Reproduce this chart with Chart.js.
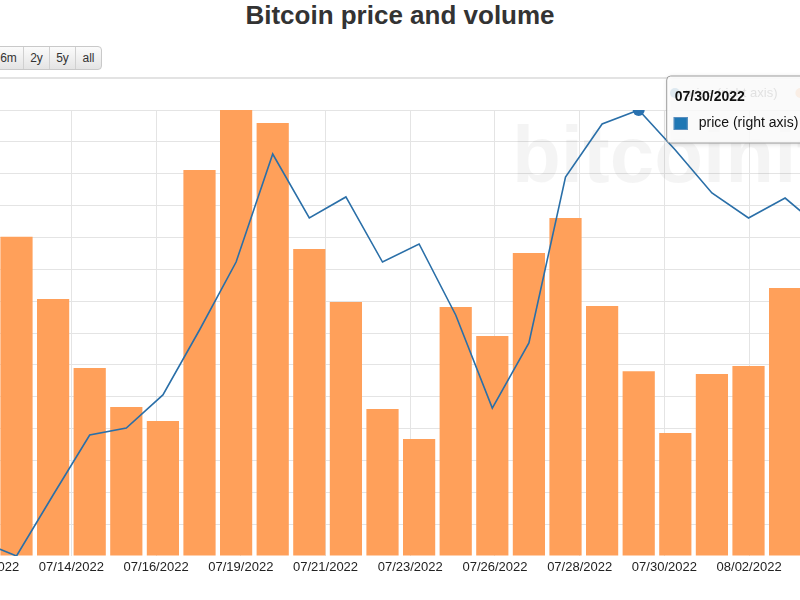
<!DOCTYPE html>
<html>
<head>
<meta charset="utf-8">
<script src="https://cdn.jsdelivr.net/npm/chart.js@4.4.1/dist/chart.umd.min.js"></script>
<style>
html,body{margin:0;padding:0;background:#fff;}
#frame{position:absolute;left:0;top:0;width:800px;height:600px;overflow:hidden;font-family:"Liberation Sans",Arial,Helvetica,sans-serif;}
#title{position:absolute;left:0;top:0;width:800px;height:30px;line-height:30px;text-align:center;font-weight:bold;font-size:26px;color:#333;}
#btns{position:absolute;left:-7px;top:46px;height:22px;display:flex;border:1px solid #c9c9c9;border-radius:4px;background:linear-gradient(#fbfbfb,#e4e4e4);}
#btns div{width:25px;height:22px;line-height:22px;text-align:center;font-size:12px;color:#333;border-left:1px solid #d0d0d0;}
#btns div:first-child{border-left:none;width:29px;}
#rule{position:absolute;left:0;top:77px;width:800px;height:2px;background:#e3e3e3;}
#wrap{position:absolute;left:-100px;top:0;width:1000px;height:600px;}
</style>
</head>
<body>
<div id="frame">
  <div id="title">Bitcoin price and volume</div>
  <div id="btns"><div>6m</div><div>2y</div><div>5y</div><div>all</div></div>
  <div id="rule"></div>
  <div id="wrap"><canvas id="c" width="1000" height="600"></canvas></div>
</div>
<script>
// ---- data ----
const dates = ['07/12/2022','07/13/2022','07/14/2022','07/15/2022','07/16/2022','07/17/2022','07/18/2022',
  '07/19/2022','07/20/2022','07/21/2022','07/22/2022','07/23/2022','07/24/2022','07/25/2022','07/26/2022',
  '07/27/2022','07/28/2022','07/29/2022','07/30/2022','07/31/2022','08/01/2022','08/02/2022','08/03/2022','08/04/2022'];
const volume = [null, 97900, 78800, 57700, 45700, 41400, 118400, 136800, 132800, 94200, 77900, 45100,
  35900, 76400, 67500, 92900, 103700, 76700, 56700, 37700, 55800, 58300, 82200, null];
const price = [19455, 19300, 19929, 20548, 20620, 20961, 21631, 22332, 23446, 22786, 23003, 22332,
  22518, 21786, 20826, 21497, 23209, 23756, 23900, 23487, 23044, 22786, 22992, 22673];
const tickLabels = ['07/12/2022','07/14/2022','07/16/2022','07/19/2022','07/21/2022','07/23/2022',
  '07/26/2022','07/28/2022','07/30/2022','08/02/2022'];
const hoverDate = '07/30/2022';

// ---- layout helpers ----
const tickStart = 0.1855, tickStep = 2.3145;
const hoverIndex = dates.indexOf(hoverDate);
const volPts = volume.map((v, i) => ({x: i, y: v}));
const pricePts = price.map((v, i) => ({x: i, y: v}));

Chart.defaults.font.family = '"Liberation Sans", Arial, Helvetica, sans-serif';

const decor = {
  id: 'decor',
  beforeDatasetsDraw(chart) {
    const ctx = chart.ctx;
    ctx.save();
    ctx.font = 'bold 80px "Liberation Sans", Arial, sans-serif';
    ctx.fillStyle = 'rgba(0,0,0,0.045)';
    ctx.textBaseline = 'alphabetic';
    ctx.fillText('bitcoinity', 612, 182);
    ctx.restore();
  },
  afterDraw(chart) {
    const ctx = chart.ctx;
    const ds = chart.data.datasets;
    // legend (sits under the tooltip)
    ctx.save();
    ctx.font = '13px "Liberation Sans", Arial, sans-serif';
    ctx.textBaseline = 'middle';
    let lx = 775;
    const ly = 93;
    [ds[0], ds[1]].forEach(d => {
      ctx.beginPath();
      ctx.arc(lx, ly, 5, 0, Math.PI * 2);
      ctx.fillStyle = d.legendColor;
      ctx.fill();
      ctx.fillStyle = '#333';
      ctx.fillText(d.label, lx + 10, ly);
      lx += 10 + ctx.measureText(d.label).width + 23;
    });
    ctx.restore();

    // tooltip
    const meta = chart.getDatasetMeta(0);
    const pt = meta.data[hoverIndex];
    const left = pt.x + 28, top = 76;
    ctx.save();
    ctx.font = '14px "Liberation Sans", Arial, sans-serif';
    const label = ds[0].label;
    const valTxt = price[hoverIndex].toLocaleString('en-US', {minimumFractionDigits: 2});
    const w = 32 + ctx.measureText(label).width + 14 + ctx.measureText(valTxt).width + 10;
    const h = 67;
    ctx.shadowColor = 'rgba(0,0,0,0.18)';
    ctx.shadowBlur = 5;
    ctx.shadowOffsetX = 1;
    ctx.shadowOffsetY = 1;
    ctx.beginPath();
    ctx.roundRect(left, top, w, h, 4);
    ctx.fillStyle = 'rgba(255,255,255,0.86)';
    ctx.fill();
    ctx.shadowColor = 'transparent';
    ctx.strokeStyle = '#9c9c9c';
    ctx.lineWidth = 1;
    ctx.stroke();
    ctx.textBaseline = 'middle';
    ctx.fillStyle = '#111';
    ctx.font = 'bold 14px "Liberation Sans", Arial, sans-serif';
    ctx.fillText(dates[hoverIndex], left + 8, top + 21);
    ctx.fillStyle = '#1f77b4';
    ctx.fillRect(left + 7, top + 41, 14, 13);
    ctx.strokeStyle = '#5b8fbf';
    ctx.strokeRect(left + 7.5, top + 41.5, 13, 12);
    ctx.fillStyle = '#111';
    ctx.font = '14px "Liberation Sans", Arial, sans-serif';
    ctx.fillText(label, left + 32, top + 47);
    ctx.fillText(valTxt, left + 32 + ctx.measureText(label).width + 14, top + 47);
    ctx.restore();
  }
};

new Chart(document.getElementById('c'), {
  data: {
    datasets: [
      {
        type: 'line',
        label: 'price (right axis)',
        legendColor: '#1f77b4',
        data: pricePts,
        yAxisID: 'y1',
        borderColor: '#2a6fa8',
        borderWidth: 1.6,
        tension: 0,
        pointRadius: c => c.dataIndex === hoverIndex ? 6 : 0,
        pointBackgroundColor: '#2a72b0',
        pointBorderWidth: 0,
        clip: 0,
        order: 0
      },
      {
        type: 'bar',
        label: 'volume (left axis)',
        legendColor: '#ff9f55',
        data: volPts,
        yAxisID: 'y',
        backgroundColor: '#ffa05a',
        borderWidth: 0,
        categoryPercentage: 1,
        barPercentage: 0.88,
        order: 1
      }
    ]
  },
  options: {
    responsive: false,
    animation: false,
    events: [],
    layout: {padding: {top: 110, left: 0, right: 0, bottom: 0}},
    plugins: {legend: {display: false}, title: {display: false}, tooltip: {enabled: false}},
    scales: {
      x: {
        type: 'linear',
        bounds: 'data',
        offset: false,
        min: -2.183,
        max: 25.139,
        afterBuildTicks: s => { s.ticks = tickLabels.map((l, m) => ({value: tickStart + m * tickStep})); },
        afterFit: s => { s.height = 44; },
        ticks: {
          autoSkip: false,
          maxRotation: 0,
          padding: 4,
          color: '#222',
          font: {size: 13},
          callback: (v, i) => tickLabels[i]
        },
        grid: {color: '#e4e4e4', drawTicks: false, offset: false},
        border: {display: false}
      },
      y: {
        position: 'left',
        bounds: 'data',
        min: 0,
        max: Math.max(...volume.filter(v => v !== null)),
        afterFit: s => { s.width = 0; },
        ticks: {display: false, stepSize: 10000, includeBounds: false},
        grid: {color: c => c.tick && c.tick.value === 0 ? 'rgba(0,0,0,0)' : '#e4e4e4', drawTicks: false},
        border: {display: false}
      },
      y1: {
        display: false,
        position: 'right',
        bounds: 'data',
        min: Math.min(...price),
        max: Math.max(...price)
      }
    }
  },
  plugins: [decor]
});
</script>
</body>
</html>
